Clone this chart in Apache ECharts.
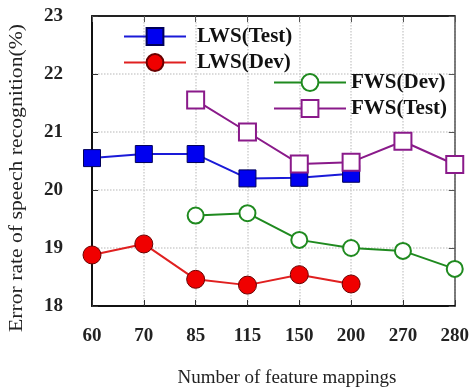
<!DOCTYPE html>
<html><head><meta charset="utf-8">
<script src="https://cdn.jsdelivr.net/npm/echarts@6/dist/echarts.min.js"></script>
<style>html,body{margin:0;padding:0;background:#fff}#c{width:472px;height:389px}</style>
</head><body><div id="c"></div>
<script>
const categories = ['60','70','85','115','150','200','270','280'];
const lwsTest = [20.55, 20.62, 20.62, 20.2, 20.21, 20.28, null, null];
const lwsDev  = [18.88, 19.07, 18.46, 18.36, 18.54, 18.38, null, null];
const fwsDev  = [null, null, 19.56, 19.6, 19.14, 19.0, 18.95, 18.64];
const fwsTest = [null, null, 21.55, 21.0, 20.45, 20.48, 20.84, 20.44];
const yTicks = [18, 19, 20, 21, 22, 23];
const xTitle = 'Number of feature mappings';
const yTitle = 'Error rate of speech recognition(%)';

const serif = '"Liberation Serif", "DejaVu Serif", serif';
const chart = echarts.init(document.getElementById('c'));
const legendText = {fontFamily: serif, fontWeight: 'bold', fontSize: 21, color: '#111'};
chart.setOption({
  animation: false,
  grid: {left: 92, right: 16, top: 16, bottom: 83},
  legend: [
    {data: ['LWS(Test)', 'LWS(Dev)'], orient: 'vertical', left: 123, top: 26, padding: 0,
     itemWidth: 62, itemHeight: 21, itemGap: 5, textStyle: Object.assign({padding: [0, 0, 0, 6]}, legendText)},
    {data: ['FWS(Dev)', 'FWS(Test)'], orient: 'vertical', left: 273, top: 72, padding: 0,
     itemWidth: 72, itemHeight: 21, itemGap: 5, textStyle: legendText}
  ],
  graphic: [
    {type: 'text', x: 287, y: 378, style: {text: xTitle, font: '19px ' + serif, fill: '#222', align: 'center', verticalAlign: 'middle'}},
    {type: 'text', x: 17, y: 178, rotation: Math.PI / 2, scaleX: 1.14, style: {text: yTitle, font: '19px ' + serif, fill: '#222', align: 'center', verticalAlign: 'middle'}}
  ],
  xAxis: [
    {type: 'category', data: categories, boundaryGap: false,
     axisLine: {lineStyle: {color: '#111', width: 2}},
     axisTick: {inside: true, length: 6, lineStyle: {color: '#333'}},
     axisLabel: {margin: 21, fontFamily: serif, fontWeight: 'bold', fontSize: 19, color: '#222'},
     splitLine: {show: true, lineStyle: {color: '#cfcfcf', type: 'dotted', width: 1.5}}},
    {type: 'category', data: categories, boundaryGap: false, position: 'top',
     axisLine: {lineStyle: {color: '#222', width: 2}},
     axisTick: {inside: true, length: 6, lineStyle: {color: '#555'}},
     axisLabel: {show: false}, splitLine: {show: false}}
  ],
  yAxis: [
    {type: 'value', min: 18, max: 23, interval: 1,
     axisLine: {show: true, lineStyle: {color: '#111', width: 2}},
     axisTick: {show: true, inside: true, length: 6, lineStyle: {color: '#333'}},
     axisLabel: {margin: 29, fontFamily: serif, fontWeight: 'bold', fontSize: 19, color: '#222',
                 formatter: v => yTicks.includes(v) ? String(v) : ''},
     splitLine: {show: true, lineStyle: {color: '#cfcfcf', type: 'dotted', width: 1.5}}},
    {type: 'value', min: 18, max: 23, interval: 1, position: 'right',
     axisLine: {show: true, lineStyle: {color: '#555', width: 1.5}},
     axisTick: {show: true, inside: true, length: 6, lineStyle: {color: '#555'}},
     axisLabel: {show: false}, splitLine: {show: false}}
  ],
  series: [
    {name: 'LWS(Test)', type: 'line', data: lwsTest, symbol: 'rect', symbolSize: 17,
     lineStyle: {color: '#1a1ad8', width: 2}, itemStyle: {color: '#0000f0', borderColor: '#00005a', borderWidth: 1}},
    {name: 'LWS(Dev)', type: 'line', data: lwsDev, symbol: 'circle', symbolSize: 18,
     lineStyle: {color: '#e02020', width: 2}, itemStyle: {color: '#f00000', borderColor: '#6a0000', borderWidth: 1}},
    {name: 'FWS(Dev)', type: 'line', data: fwsDev, symbol: 'circle', symbolSize: 16,
     lineStyle: {color: '#1f8a1f', width: 2}, itemStyle: {color: '#fff', borderColor: '#1f8a1f', borderWidth: 2}},
    {name: 'FWS(Test)', type: 'line', data: fwsTest, symbol: 'rect', symbolSize: 17,
     lineStyle: {color: '#8a1a8a', width: 2}, itemStyle: {color: '#fff', borderColor: '#8a1a8a', borderWidth: 2}}
  ]
});
</script></body></html>
